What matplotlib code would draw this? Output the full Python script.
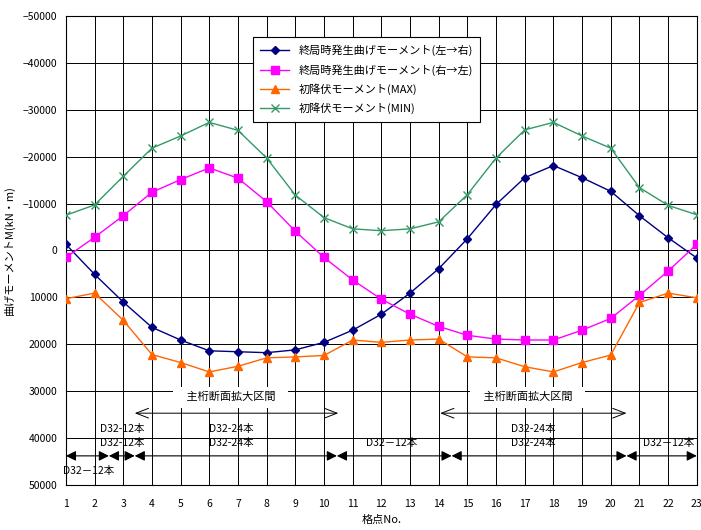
import numpy as np
import matplotlib
matplotlib.use("Agg")
import matplotlib.pyplot as plt

plt.rcParams['font.family'] = ['Noto Sans CJK JP', 'DejaVu Sans']

# 格点
nodes = np.arange(1, 24)

# 終局時発生曲げモーメント(左→右)
m_lr = [-1300, 5100, 11000, 16400, 19100, 21400, 21600, 21800, 21200, 19600, 17000, 13600,
        9100, 3900, -2500, -9800, -15500, -18100, -15500, -12600, -7400, -2700, 1600]
# 終局時発生曲げモーメント(右→左)
m_rl = [1500, -2800, -7400, -12400, -15100, -17600, -15400, -10400, -4100, 1500, 6300, 10400,
        13600, 16200, 18100, 18900, 19100, 19100, 17000, 14500, 9600, 4400, -1300]
# 初降伏モーメント(MAX)
my_max = [10300, 9100, 14900, 22200, 23900, 25900, 24700, 22900, 22700, 22400, 19100, 19600,
          19100, 18900, 22700, 22900, 24800, 25900, 23900, 22300, 11100, 9100, 10100]
# 初降伏モーメント(MIN)
my_min = [-7500, -9700, -15800, -21800, -24400, -27300, -25600, -19700, -11800, -7000, -4600, -4200,
          -4600, -6100, -11900, -19700, -25700, -27300, -24400, -21800, -13400, -9600, -7600]

labels = ['終局時発生曲げモーメント(左→右)', '終局時発生曲げモーメント(右→左)',
          '初降伏モーメント(MAX)', '初降伏モーメント(MIN)']

# 配筋区間の境界
bar_breaks = [1, 2.5, 3.4, 10.45, 14.45, 20.55, 23]
# 主桁断面拡大区間
widen = [(3.4, 10.5), (14.05, 20.55)]

fig = plt.figure(figsize=(7.01, 5.30), dpi=100)
ax = fig.add_axes([0.094, 0.085, 0.900, 0.885])

ax.plot(nodes, m_lr, color='#000080', marker='D', markersize=4.5, lw=1, label=labels[0], zorder=5)
ax.plot(nodes, m_rl, color='#FF00FF', marker='s', markersize=6, lw=1, label=labels[1], zorder=5)
ax.plot(nodes, my_max, color='#FF6600', marker='^', markersize=6, lw=1, label=labels[2], zorder=5)
ax.plot(nodes, my_min, color='#339966', marker='x', markersize=6, lw=1, label=labels[3], zorder=5)

ax.set_xlim(1, 23)
ax.set_ylim(50000, -50000)
ax.set_xticks(nodes)
ax.set_yticks(np.arange(-50000, 50001, 10000))
ax.tick_params(length=0, labelsize=7.5)
ax.tick_params(axis='x', pad=10)
ax.tick_params(axis='y', pad=6)
ax.grid(True, color='black', lw=0.7)
ax.set_axisbelow(True)
for s in ax.spines.values():
    s.set_color('black')
    s.set_linewidth(0.8)

ax.set_xlabel('格点No.', fontsize=8, labelpad=4)
ax.set_ylabel('曲げモーメントM(kN・m)', fontsize=8, labelpad=6)

leg = ax.legend(loc='upper left', bbox_to_anchor=(0.296, 0.955), borderaxespad=0, fontsize=8,
                fancybox=False, framealpha=1, edgecolor='black', handlelength=2.6, borderpad=0.7,
                labelspacing=0.7)
leg.get_frame().set_linewidth(0.8)

# 主桁断面拡大区間
for x0, x1 in widen:
    ax.annotate('', xy=(x0, 34700), xytext=(x1, 34700),
                arrowprops=dict(arrowstyle='<->,head_length=0.9,head_width=0.35', color='black',
                                lw=0.7, shrinkA=0, shrinkB=0))
    ax.text((x0 + x1) / 2 - 0.2, 31300, '   主桁断面拡大区間   ', ha='center', va='center', fontsize=8,
            bbox=dict(facecolor='white', edgecolor='none', pad=4), zorder=3)

# 配筋区間
for x0, x1 in zip(bar_breaks[:-1], bar_breaks[1:]):
    ax.annotate('', xy=(x0, 43800), xytext=(x1, 43800),
                arrowprops=dict(arrowstyle='<|-|>,head_length=0.6,head_width=0.3', color='black',
                                lw=0.8, shrinkA=0, shrinkB=0), annotation_clip=False)

ax.text(1.8, 47000, 'D32－12本', ha='center', va='center', fontsize=7.5)
ax.text(2.95, 38100, 'D32-12本', ha='center', va='center', fontsize=7.5)
ax.text(2.95, 41000, 'D32-12本', ha='center', va='center', fontsize=7.5)
ax.text(6.0, 38100, 'D32-24本', ha='left', va='center', fontsize=7.5)
ax.text(6.0, 41000, 'D32-24本', ha='left', va='center', fontsize=7.5)
ax.text(12.35, 41000, 'D32－12本', ha='center', va='center', fontsize=7.5)
ax.text(17.3, 38100, 'D32-24本', ha='center', va='center', fontsize=7.5)
ax.text(17.3, 41000, 'D32-24本', ha='center', va='center', fontsize=7.5)
ax.text(22.0, 41000, 'D32－12本', ha='center', va='center', fontsize=7.5)

fig.savefig('out.png', dpi=100)
